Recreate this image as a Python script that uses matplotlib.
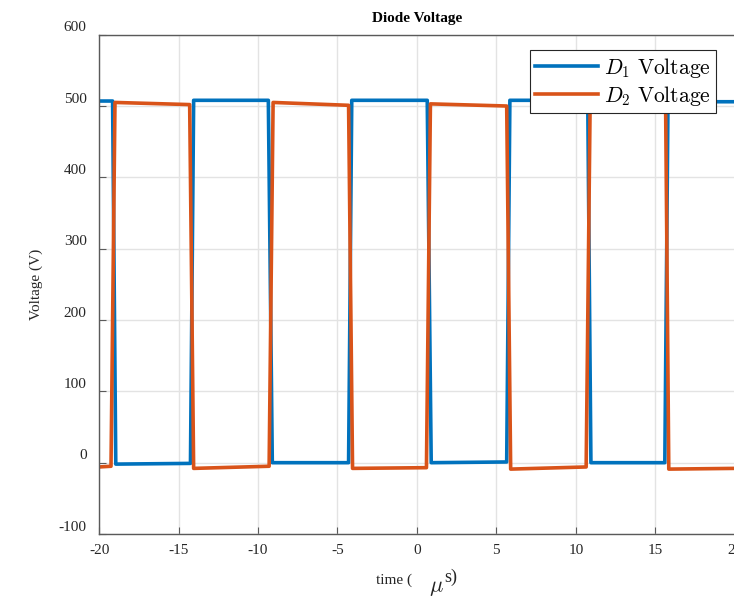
import matplotlib
matplotlib.use("Agg")
import matplotlib.pyplot as plt
from matplotlib.transforms import ScaledTranslation

plt.rcParams['font.family'] = ['Liberation Serif', 'DejaVu Serif']
plt.rcParams['mathtext.fontset'] = 'cm'
plt.rcParams['axes.unicode_minus'] = False

# breakpoints (time in us, voltage in V)
d1_time = [-20.0, -19.15, -18.95, -14.25, -14.05, -9.35, -9.1, -4.3, -4.1,
           0.65, 0.9, 5.65, 5.85, 10.75, 10.95, 15.6, 15.8, 20.0]
d1_volt = [507, 507, -2, -1, 508, 508, 0, 0, 508,
           508, 0, 1, 508, 508, 0, 0, 506, 506]

d2_time = [-20.0, -19.25, -19.0, -14.3, -14.05, -9.3, -9.05, -4.3, -4.05,
           0.6, 0.85, 5.65, 5.9, 10.65, 10.9, 15.65, 15.85, 20.0]
d2_volt = [-6, -5, 505, 502, -8, -5, 505, 501, -8,
           -7, 503, 500, -9, -6, 503, 502, -9, -8]

blue = '#0072BD'
orange = '#D95319'

fig = plt.figure(figsize=(7.34, 5.98), dpi=100)
ax = fig.add_axes([0.135, 0.107, 0.866, 0.835])

ax.plot(d1_time, d1_volt, color=blue, lw=2.6, label=r'$D_1\ \mathrm{Voltage}$')
ax.plot(d2_time, d2_volt, color=orange, lw=2.6, label=r'$D_2\ \mathrm{Voltage}$')

ax.set_xlim(-20, 20)
ax.set_ylim(-100, 600)
ax.set_xticks(range(-20, 21, 5))
ax.set_yticks(range(-100, 601, 100))
ax.grid(True, color='#e3e3e3', lw=1)
ax.set_axisbelow(True)

for s in ax.spines.values():
    s.set_color('#5a5a5a')
    s.set_linewidth(1.0)
ax.tick_params(direction='in', length=5, color='#5a5a5a', labelsize=11,
               labelcolor='#262626', top=False, right=False)
ax.tick_params(axis='x', pad=7)
ax.tick_params(axis='y', pad=9)

# MATLAB-style y labels sit a bit above their ticks
for lab in ax.get_yticklabels():
    lab.set_transform(lab.get_transform() + ScaledTranslation(0, 6 / 72, fig.dpi_scale_trans))

ax.set_title('Diode Voltage', fontsize=11, fontweight='bold', pad=9)
ax.set_ylabel('Voltage (V)', fontsize=11, color='#262626', labelpad=11)

# x label pieces, as rendered in the original
fig.text(0.561, 0.030, 'time (', ha='right', va='center', fontsize=11, color='#262626')
fig.text(0.594, 0.016, r'$\mu$', ha='center', va='center', fontsize=16, color='#262626')
fig.text(0.605, 0.035, 's)', ha='left', va='center', fontsize=13, color='#262626')

leg = ax.legend(loc='upper right', bbox_to_anchor=(0.971, 0.969), borderaxespad=0,
                fontsize=15.5, handlelength=2.9, handletextpad=0.3, labelspacing=0.2,
                borderpad=0.25, fancybox=False, framealpha=1)
leg.get_frame().set_edgecolor('#262626')
leg.get_frame().set_linewidth(0.8)

fig.savefig('out.png', dpi=100)
